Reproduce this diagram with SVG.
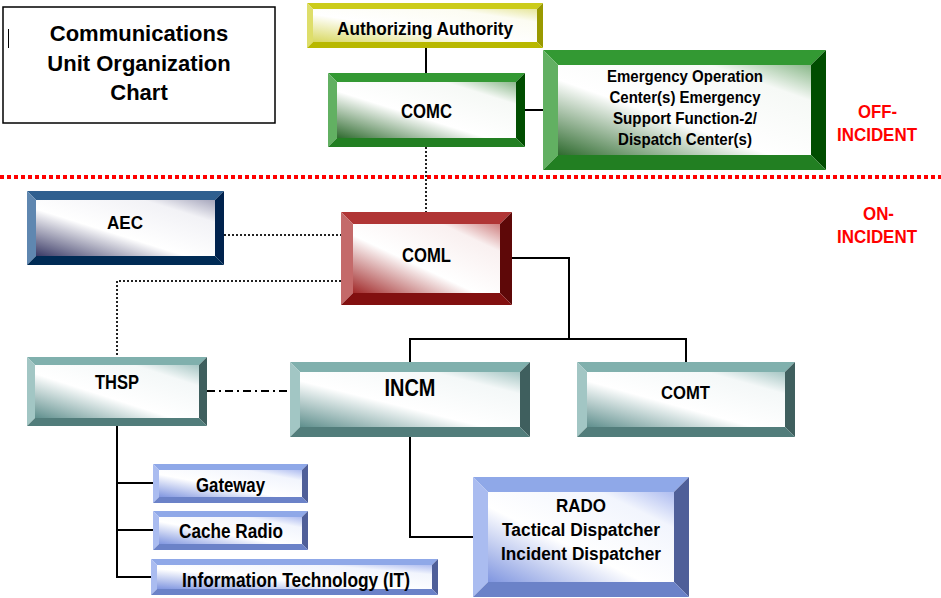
<svg xmlns="http://www.w3.org/2000/svg" width="941" height="598" viewBox="0 0 941 598">
<defs>
<linearGradient id="gGreen" x1="0" y1="1" x2="1" y2="0"><stop offset="0" stop-color="#2f6b2f"/><stop offset="0.42" stop-color="#ffffff"/><stop offset="0.8" stop-color="#f6f9f6"/><stop offset="1" stop-color="#8ab88a"/></linearGradient>
<linearGradient id="gYellow" x1="0" y1="1" x2="1" y2="0"><stop offset="0" stop-color="#d8d860"/><stop offset="0.42" stop-color="#ffffff"/><stop offset="0.8" stop-color="#fcfcf2"/><stop offset="1" stop-color="#e6e69a"/></linearGradient>
<linearGradient id="gRed" x1="0" y1="1" x2="1" y2="0"><stop offset="0" stop-color="#a02828"/><stop offset="0.42" stop-color="#ffffff"/><stop offset="0.8" stop-color="#f9f0f0"/><stop offset="1" stop-color="#cf8080"/></linearGradient>
<linearGradient id="gNavy" x1="0" y1="1" x2="1" y2="0"><stop offset="0" stop-color="#3a3a66"/><stop offset="0.42" stop-color="#ffffff"/><stop offset="0.8" stop-color="#f2f2f6"/><stop offset="1" stop-color="#a6a6bc"/></linearGradient>
<linearGradient id="gTeal" x1="0" y1="1" x2="1" y2="0"><stop offset="0" stop-color="#5f8f8d"/><stop offset="0.42" stop-color="#ffffff"/><stop offset="0.8" stop-color="#f4f8f8"/><stop offset="1" stop-color="#a6c6c4"/></linearGradient>
<linearGradient id="gBlue" x1="0" y1="1" x2="1" y2="0"><stop offset="0" stop-color="#8096e0"/><stop offset="0.42" stop-color="#ffffff"/><stop offset="0.8" stop-color="#f2f5fd"/><stop offset="1" stop-color="#aebcf0"/></linearGradient>
</defs>
<style>
text{font-family:"Liberation Sans",Arial,sans-serif;font-weight:bold;fill:#000;text-anchor:middle}
.lbl{font-size:20px}
.red{fill:#ff0000;font-size:18px}
.green .t{fill:#339933}.green .l{fill:#62b062}.green .r{fill:#004d00}.green .b{fill:#227f22}.green .face{fill:url(#gGreen)}
.yellow .t{fill:#cccc1a}.yellow .l{fill:#dede6a}.yellow .r{fill:#999900}.yellow .b{fill:#b8b800}.yellow .face{fill:url(#gYellow)}
.redn .t{fill:#b03535}.redn .l{fill:#c46a6a}.redn .r{fill:#5e0808}.redn .b{fill:#821010}.redn .face{fill:url(#gRed)}
.navy .t{fill:#2f5f8f}.navy .l{fill:#5f87b0}.navy .r{fill:#00224d}.navy .b{fill:#002b55}.navy .face{fill:url(#gNavy)}
.teal .t{fill:#80b0ad}.teal .l{fill:#a2c6c4}.teal .r{fill:#3f5f5e}.teal .b{fill:#527d7b}.teal .face{fill:url(#gTeal)}
.blue .t{fill:#8fa8e8}.blue .l{fill:#aabcf0}.blue .r{fill:#4f5f99}.blue .b{fill:#6b82c8}.blue .face{fill:url(#gBlue)}
.solid{fill:none;stroke:#000;stroke-width:2}
.dot{fill:none;stroke:#222;stroke-width:2;stroke-dasharray:2 2}
.dashdot{fill:none;stroke:#000;stroke-width:2;stroke-dasharray:8 4 2 4}
</style>

<g id="title">
<rect x="3" y="7" width="272" height="116" fill="#fff" stroke="#000" stroke-width="1.5"/>
<line x1="8.5" y1="29" x2="8.5" y2="48" stroke="#000" stroke-width="1"/>
<text x="139" y="41" font-size="22">Communications</text>
<text x="139" y="71" font-size="22">Unit Organization</text>
<text x="139" y="100" font-size="22">Chart</text>
</g>

<g id="separator">
<line x1="0" y1="177" x2="941" y2="177" stroke="#ff0000" stroke-width="4" stroke-dasharray="4 3"/>
<text class="red" x="877.5" y="118" textLength="39" lengthAdjust="spacingAndGlyphs">OFF-</text>
<text class="red" x="877" y="141" textLength="80" lengthAdjust="spacingAndGlyphs">INCIDENT</text>
<text class="red" x="878.5" y="220" textLength="31" lengthAdjust="spacingAndGlyphs">ON-</text>
<text class="red" x="877" y="243" textLength="80" lengthAdjust="spacingAndGlyphs">INCIDENT</text>
</g>

<g id="connectors">
<line class="solid" x1="426" y1="48" x2="426" y2="73"/>
<line class="solid" x1="525" y1="110" x2="543" y2="110"/>
<line class="dot" x1="426" y1="147" x2="426" y2="212"/>
<line class="dot" x1="224" y1="235" x2="341" y2="235"/>
<path class="dot" d="M341,281 H117 V357"/>
<path class="solid" d="M512,258 H569 V339"/>
<path class="solid" d="M410,362 V339 H686 V362"/>
<line class="dashdot" x1="207" y1="391" x2="290" y2="391"/>
<path class="solid" d="M117,426 V577 H151 M117,483 H153 M117,530 H153"/>
<path class="solid" d="M410,437 V537 H473"/>
</g>

<g id="node-authorizing" class="yellow">
<polygon class="t" points="307,3 543,3 537,9 313,9"/>
<polygon class="l" points="307,3 313,9 313,42 307,48"/>
<polygon class="r" points="543,3 543,48 537,42 537,9"/>
<polygon class="b" points="307,48 543,48 537,42 313,42"/>
<rect class="face" x="313" y="9" width="224" height="33"/>
<text x="425" y="35" font-size="19" textLength="176" lengthAdjust="spacingAndGlyphs">Authorizing Authority</text>
</g>

<g id="node-comc" class="green">
<polygon class="t" points="328,73 525,73 516,82 337,82"/>
<polygon class="l" points="328,73 337,82 337,138 328,147"/>
<polygon class="r" points="525,73 525,147 516,138 516,82"/>
<polygon class="b" points="328,147 525,147 516,138 337,138"/>
<rect class="face" x="337" y="82" width="179" height="56"/>
<text class="lbl" x="426.5" y="118" textLength="51" lengthAdjust="spacingAndGlyphs">COMC</text>
</g>

<g id="node-eoc" class="green">
<polygon class="t" points="543,50 826,50 811,65 558,65"/>
<polygon class="l" points="543,50 558,65 558,155 543,170"/>
<polygon class="r" points="826,50 826,170 811,155 811,65"/>
<polygon class="b" points="543,170 826,170 811,155 558,155"/>
<rect class="face" x="558" y="65" width="253" height="90"/>
<text x="685" y="82" font-size="17" textLength="156" lengthAdjust="spacingAndGlyphs">Emergency Operation</text>
<text x="685" y="103" font-size="17" textLength="151" lengthAdjust="spacingAndGlyphs">Center(s) Emergency</text>
<text x="685" y="124" font-size="17" textLength="144" lengthAdjust="spacingAndGlyphs">Support Function-2/</text>
<text x="685" y="145" font-size="17" textLength="134" lengthAdjust="spacingAndGlyphs">Dispatch Center(s)</text>
</g>

<g id="node-aec" class="navy">
<polygon class="t" points="27,191 224,191 215,200 36,200"/>
<polygon class="l" points="27,191 36,200 36,256 27,265"/>
<polygon class="r" points="224,191 224,265 215,256 215,200"/>
<polygon class="b" points="27,265 224,265 215,256 36,256"/>
<rect class="face" x="36" y="200" width="179" height="56"/>
<text x="125" y="229" font-size="19" textLength="36" lengthAdjust="spacingAndGlyphs">AEC</text>
</g>

<g id="node-coml" class="redn">
<polygon class="t" points="341,212 512,212 500,224 353,224"/>
<polygon class="l" points="341,212 353,224 353,293 341,305"/>
<polygon class="r" points="512,212 512,305 500,293 500,224"/>
<polygon class="b" points="341,305 512,305 500,293 353,293"/>
<rect class="face" x="353" y="224" width="147" height="69"/>
<text class="lbl" x="426.5" y="262" textLength="49" lengthAdjust="spacingAndGlyphs">COML</text>
</g>

<g id="node-thsp" class="teal">
<polygon class="t" points="27,357 207,357 199,365 35,365"/>
<polygon class="l" points="27,357 35,365 35,418 27,426"/>
<polygon class="r" points="207,357 207,426 199,418 199,365"/>
<polygon class="b" points="27,426 207,426 199,418 35,418"/>
<rect class="face" x="35" y="365" width="164" height="53"/>
<text class="lbl" x="117" y="389" textLength="44" lengthAdjust="spacingAndGlyphs">THSP</text>
</g>

<g id="node-incm" class="teal">
<polygon class="t" points="290,362 530,362 520,372 300,372"/>
<polygon class="l" points="290,362 300,372 300,427 290,437"/>
<polygon class="r" points="530,362 530,437 520,427 520,372"/>
<polygon class="b" points="290,437 530,437 520,427 300,427"/>
<rect class="face" x="300" y="372" width="220" height="55"/>
<text x="410" y="396" font-size="23" textLength="51" lengthAdjust="spacingAndGlyphs">INCM</text>
</g>

<g id="node-comt" class="teal">
<polygon class="t" points="577,362 795,362 785,372 587,372"/>
<polygon class="l" points="577,362 587,372 587,427 577,437"/>
<polygon class="r" points="795,362 795,437 785,427 785,372"/>
<polygon class="b" points="577,437 795,437 785,427 587,427"/>
<rect class="face" x="587" y="372" width="198" height="55"/>
<text x="685.5" y="399" font-size="19" textLength="49" lengthAdjust="spacingAndGlyphs">COMT</text>
</g>

<g id="node-gateway" class="blue">
<polygon class="t" points="153,464 308,464 302,470 159,470"/>
<polygon class="l" points="153,464 159,470 159,497 153,503"/>
<polygon class="r" points="308,464 308,503 302,497 302,470"/>
<polygon class="b" points="153,503 308,503 302,497 159,497"/>
<rect class="face" x="159" y="470" width="143" height="27"/>
<text class="lbl" x="230.5" y="492" textLength="69" lengthAdjust="spacingAndGlyphs">Gateway</text>
</g>

<g id="node-cache" class="blue">
<polygon class="t" points="153,511 308,511 302,517 159,517"/>
<polygon class="l" points="153,511 159,517 159,544 153,550"/>
<polygon class="r" points="308,511 308,550 302,544 302,517"/>
<polygon class="b" points="153,550 308,550 302,544 159,544"/>
<rect class="face" x="159" y="517" width="143" height="27"/>
<text class="lbl" x="231" y="538" textLength="104" lengthAdjust="spacingAndGlyphs">Cache Radio</text>
</g>

<g id="node-it" class="blue">
<polygon class="t" points="151,559 438,559 432,565 157,565"/>
<polygon class="l" points="151,559 157,565 157,589 151,595"/>
<polygon class="r" points="438,559 438,595 432,589 432,565"/>
<polygon class="b" points="151,595 438,595 432,589 157,589"/>
<rect class="face" x="157" y="565" width="275" height="24"/>
<text class="lbl" x="296" y="587" textLength="228" lengthAdjust="spacingAndGlyphs">Information Technology (IT)</text>
</g>

<g id="node-rado" class="blue">
<polygon class="t" points="473,477 689,477 674,492 488,492"/>
<polygon class="l" points="473,477 488,492 488,582 473,597"/>
<polygon class="r" points="689,477 689,597 674,582 674,492"/>
<polygon class="b" points="473,597 689,597 674,582 488,582"/>
<rect class="face" x="488" y="492" width="186" height="90"/>
<text x="581" y="512" font-size="18" textLength="50" lengthAdjust="spacingAndGlyphs">RADO</text>
<text x="581" y="536" font-size="18" textLength="158" lengthAdjust="spacingAndGlyphs">Tactical Dispatcher</text>
<text x="581" y="560" font-size="18" textLength="160" lengthAdjust="spacingAndGlyphs">Incident Dispatcher</text>
</g>
</svg>
